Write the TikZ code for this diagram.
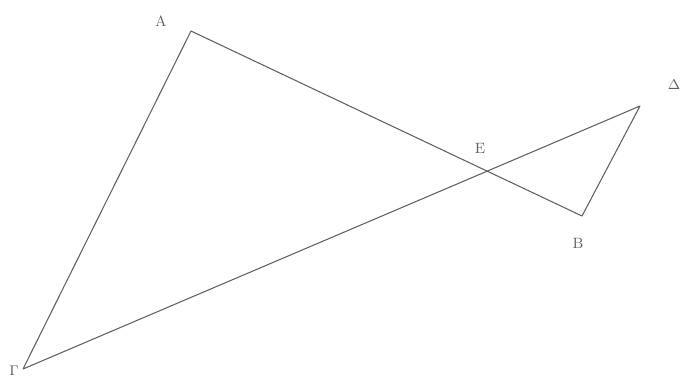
\documentclass[tikz,border=0pt]{standalone}
\usepackage{xcolor}
\usetikzlibrary{calc}
\definecolor{mygray}{RGB}{95,95,95}

\begin{document}
\begin{tikzpicture}[x=0.02cm, y=-0.02cm, font=\fontsize{8.5}{10}\selectfont]
\useasboundingbox (0,0) rectangle (683,380);

\coordinate (A) at (191,31);
\coordinate (B) at (582,216);
\coordinate (G) at (23,369);
\coordinate (D) at (640,106);
\coordinate (E) at (intersection of A--B and G--D);

\draw[mygray, line width=0.6pt, line join=round] (G) -- (A) -- (B) -- (D) -- (G);

\node[color=mygray] (labelA) at (161,21) {A};
\node[color=mygray] (labelB) at (578,243) {B};
\node[color=mygray] (labelG) at (14,371) {$\Gamma$};
\node[color=mygray] (labelD) at (674,85) {$\Delta$};
\node[color=mygray] (labelE) at ($(E)+(-7,-23)$) {E};
\end{tikzpicture}
\end{document}
